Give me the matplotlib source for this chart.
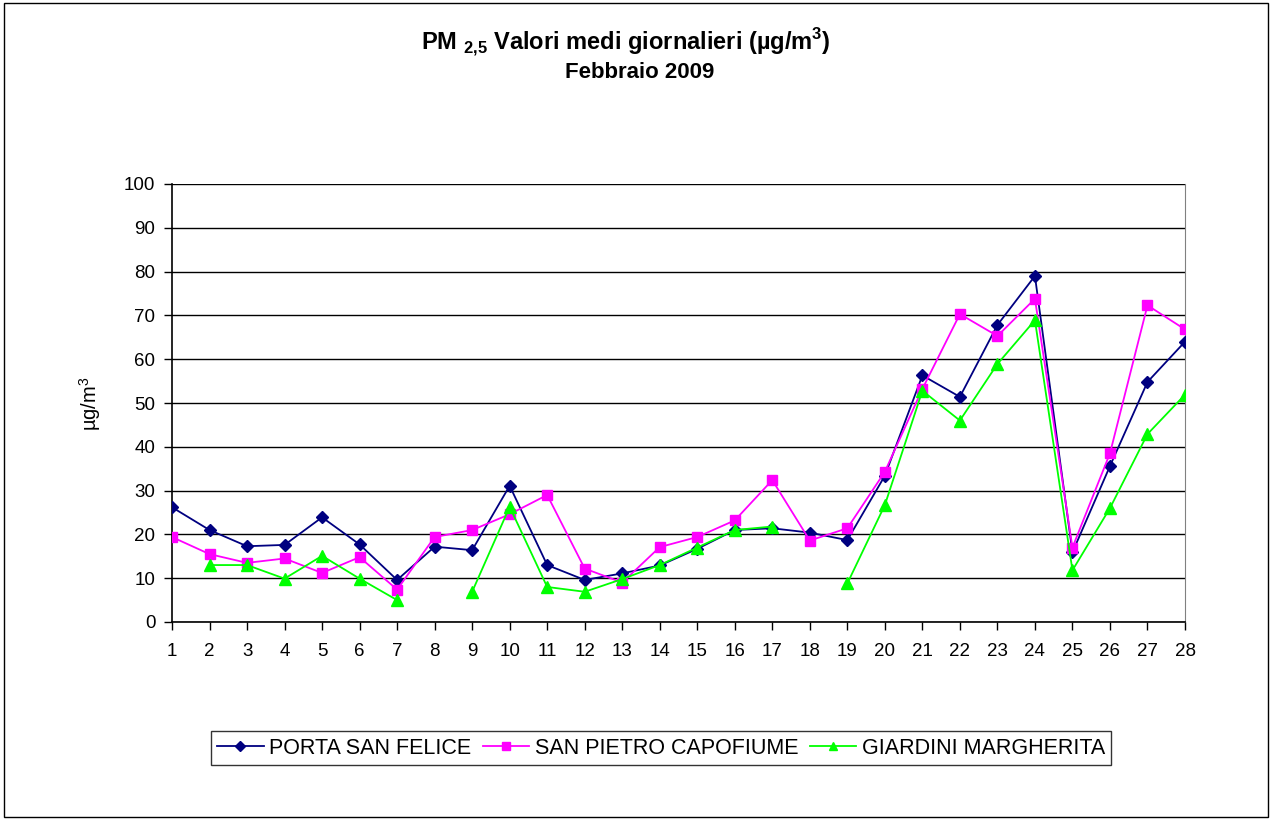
import numpy as np
import matplotlib
matplotlib.use("Agg")
import matplotlib.pyplot as plt
from matplotlib.patches import Rectangle

plt.rcParams['font.family'] = ['Liberation Sans', 'DejaVu Sans']
plt.rcParams['mathtext.fontset'] = 'custom'
plt.rcParams['mathtext.rm'] = 'Liberation Sans'
plt.rcParams['mathtext.bf'] = 'Liberation Sans:bold'

days = list(range(1, 29))
porta_san_felice = [26.2, 21.0, 17.3, 17.6, 23.9, 17.7, 9.6, 17.2, 16.4, 31.1,
                    13.0, 9.6, 11.1, 12.9, 16.7, 21.0, 21.4, 20.4, 18.7, 33.4,
                    56.3, 51.4, 67.8, 79.0, 15.9, 35.6, 54.8, 64.0]
san_pietro_capofiume = [19.4, 15.5, 13.5, 14.5, 11.2, 14.8, 7.4, 19.4, 21.0, 24.6,
                        29.0, 12.2, 9.0, 17.1, 19.4, 23.2, 32.4, 18.6, 21.4, 34.3,
                        53.2, 70.3, 65.3, 73.8, 17.0, 38.5, 72.3, 66.8]
giardini_margherita = [np.nan, 13.0, 13.0, 9.9, 15.1, 9.9, 5.0, np.nan, 6.9, 26.3,
                       8.0, 6.9, 9.8, 13.0, 17.0, 21.0, 21.8, np.nan, 8.8, 26.7,
                       52.8, 46.0, 58.9, 68.9, 11.8, 26.0, 42.9, 51.9]
series_names = ["PORTA SAN FELICE", "SAN PIETRO CAPOFIUME", "GIARDINI MARGHERITA"]
y_ticks = list(range(0, 101, 10))

fig = plt.figure(figsize=(12.7, 8.19), dpi=100)
ax = fig.add_axes([172/1270, 1-622/819, (1185-172)/1270, (622-184)/819])

ax.plot(days, porta_san_felice, color='#000080', marker='D', markersize=6.5,
        linewidth=1.3, label=series_names[0], zorder=3)
ax.plot(days, san_pietro_capofiume, color='#FF00FF', marker='s', markersize=7,
        linewidth=1.3, label=series_names[1], zorder=4)
ax.plot(days, giardini_margherita, color='#00FF00', marker='^', markersize=8,
        linewidth=1.3, label=series_names[2], zorder=5)

ax.set_xlim(1, 28)
ax.set_ylim(0, 100)
ax.set_xticks(days)
ax.set_yticks(y_ticks)
ax.tick_params(axis='both', direction='out', length=6, width=1, labelsize=13.5,
               colors='black')
ax.tick_params(axis='x', pad=9)
ax.tick_params(axis='y', pad=6)
ax.yaxis.grid(True, color='black', linewidth=1)
ax.set_axisbelow(True)
ax.spines['left'].set_color('black')
ax.spines['bottom'].set_color('black')
ax.spines['right'].set_color('#808080')
ax.spines['top'].set_visible(False)
ax.spines['left'].set_linewidth(1.2)
ax.spines['bottom'].set_linewidth(1.2)

fig.text(90/1270, 1-404/819, r"µg/m$^3$", rotation=90, ha='center', va='center',
         fontsize=14.5)

fig.text(626/1270, 1-43/819,
         r"PM $_{\mathbf{2{,}5}}$ Valori medi giornalieri (µg/m$^{\mathbf{3}}$)",
         ha='center', va='center', fontsize=17, fontweight='bold')
fig.text(640/1270, 1-73/819, "Febbraio 2009", ha='center', va='center',
         fontsize=16, fontweight='bold')

leg = fig.legend(loc='center', bbox_to_anchor=(661/1270, 1-748/819), ncol=3,
                 fontsize=15.5, frameon=True, fancybox=False, edgecolor='black',
                 handlelength=2.15, handletextpad=0.25, columnspacing=0.55,
                 borderpad=0.3, borderaxespad=0, markerscale=0.75)
leg.get_frame().set_linewidth(1)

fig.patches.append(Rectangle((4/1270, 2/819), 1264/1270, 814/819, transform=fig.transFigure,
                             fill=False, edgecolor='black', linewidth=1))

fig.savefig("out.png", dpi=100)
